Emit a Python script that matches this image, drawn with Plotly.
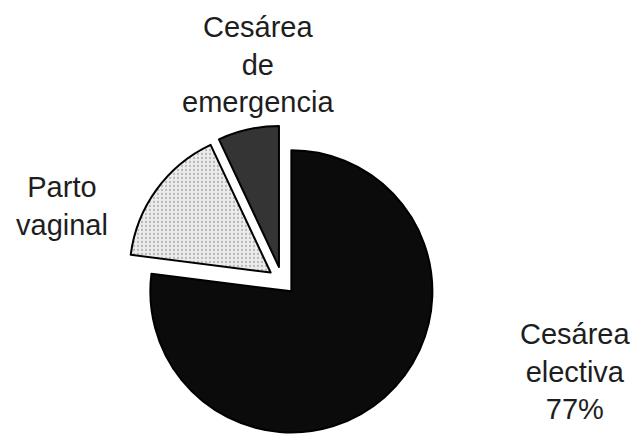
import plotly.graph_objects as go

labels = ["Cesárea electiva", "Parto vaginal", "Cesárea de emergencia"]
values = [77, 16, 7]
colors = ["#0b0b0b", "#ececec", "#343434"]
pulls = [0.1, 0.1, 0.1]

label_texts = ["Cesárea<br>electiva<br>77%", "Parto<br>vaginal", "Cesárea<br>de<br>emergencia"]
label_x = [0.897, 0.097, 0.4025]
label_y = [0.147, 0.527, 0.851]

fig = go.Figure()
fig.add_trace(go.Pie(
    labels=labels,
    values=values,
    sort=False,
    direction="clockwise",
    rotation=0,
    pull=pulls,
    textinfo="none",
    hoverinfo="skip",
    showlegend=False,
    marker=dict(
        colors=colors,
        line=dict(color="#000000", width=2),
        pattern=dict(shape=["", ".", ""], fgcolor=["#0b0b0b", "#b8b8b8", "#343434"],
                     bgcolor=colors, size=4, solidity=0.25),
    ),
    domain=dict(x=[0.198, 0.682], y=[0.0, 0.712]),
))

for t, x, y in zip(label_texts, label_x, label_y):
    fig.add_annotation(text=t, x=x, y=y, xref="paper", yref="paper",
                       xanchor="center", yanchor="middle", showarrow=False,
                       align="center",
                       font=dict(family="Liberation Sans, Arial, sans-serif", size=29, color="#1e1e1e"))

fig.update_layout(
    width=641, height=436,
    margin=dict(l=0, r=0, t=0, b=0),
    paper_bgcolor="white", plot_bgcolor="white",
)

fig.write_html("out.html")
